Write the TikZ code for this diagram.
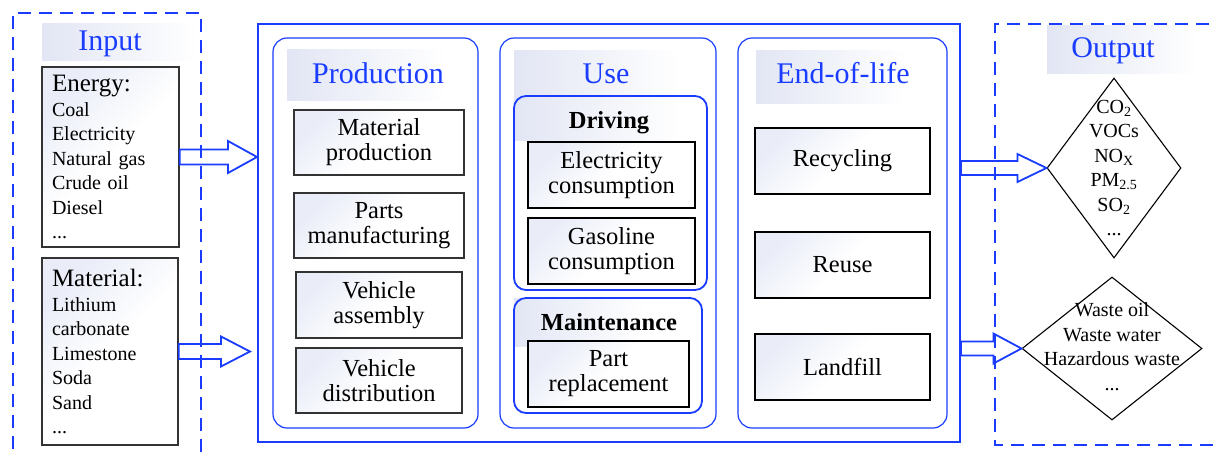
\documentclass[tikz,border=0pt]{standalone}
\usepackage{fontspec}
\setmainfont{Liberation Serif}
\newfontfamily\tnr{Liberation Serif}
\usetikzlibrary{shapes.geometric,calc}
\definecolor{mblue}{RGB}{25,60,255}
\definecolor{gfill}{RGB}{226,230,244}
\definecolor{bfill}{RGB}{234,237,248}
\newcommand\blkarrow[5]{%
  \draw[arr] let \p1=(#1), \p2=(#2) in
    (\x1,\y1+#3) -- (\x2-#5,\y1+#3) -- (\x2-#5,\y1+#4) -- (\x2,\y1)
    -- (\x2-#5,\y1-#4) -- (\x2-#5,\y1-#3) -- (\x1,\y1-#3) -- cycle;}
\tikzset{
  grad/.style={top color=bfill, bottom color=white, shading angle=45, middle color=white},
  titlebg/.style={left color=gfill, right color=white, draw=none, inner sep=0pt, anchor=north west},
  ttl/.style={font=\tnr\fontsize{30}{31}\selectfont, text=mblue, anchor=base, inner sep=0pt},
  subttl/.style={font=\tnr\fontsize{24.5}{25}\selectfont\bfseries, anchor=base, inner sep=0pt},
  boxtxt/.style={font=\tnr\fontsize{24.5}{25}\selectfont, align=center},
  pbox/.style={boxtxt, draw=black!80, line width=1.2pt, grad, inner sep=0pt},
  tbox/.style={boxtxt, draw=black, line width=2.6pt, grad, inner sep=0pt},
  inbox/.style={draw=black!80, line width=1.5pt, grad, align=left, inner xsep=10pt,
     font=\tnr\fontsize{20}{24.5}\selectfont},
  panel/.style={draw=mblue, line width=1.2pt, rounded corners=14pt, inner sep=0pt},
  subpanel/.style={draw=mblue, line width=1.8pt, rounded corners=12pt, inner sep=0pt},
  dashbox/.style={draw=mblue, line width=2pt, dash pattern=on 13pt off 8pt},
  arr/.style={draw=mblue, line width=1.8pt, line join=miter},
  dia/.style={diamond, draw=black, line width=1.1pt, inner sep=0pt, fill=white},
  diatxt/.style={font=\tnr\fontsize{20}{24.5}\selectfont, align=center, inner sep=0pt},
}
\begin{document}
\begin{tikzpicture}[x=1pt,y=-1pt,font=\tnr]
\useasboundingbox (0,0) rectangle (1213,453);
\clip (0,0) rectangle (1213,453);
\fill[white] (0,0) rectangle (1213,453);

% dashed input / output frames
\draw[dashbox] (13,470) -- (13,13) -- (201,13) -- (201,470);
\draw[dashbox] (1230,24) -- (995,24) -- (995,445) -- (1230,445);

% title backgrounds
\node[titlebg, minimum width=155, minimum height=37] (inbg) at (42,23) {};
\node[titlebg, minimum width=158, minimum height=51] (prodbg) at (287,49) {};
\node[titlebg, minimum width=166, minimum height=90] (usebg) at (514,50) {};
\node[titlebg, minimum width=130, minimum height=48] (mntbg) at (514,298) {};
\node[titlebg, minimum width=150, minimum height=53] (eolbg) at (756,50) {};
\node[titlebg, minimum width=150, minimum height=48] (outbg) at (1047,25) {};

% main frame and panels
\node[draw=mblue, line width=2pt, minimum width=702, minimum height=418, inner sep=0pt] (main) at (609,233) {};
\node[panel, minimum width=205, minimum height=390] (prod) at (375.5,233) {};
\node[panel, minimum width=216, minimum height=390] (use) at (608,233) {};
\node[panel, minimum width=209, minimum height=390] (eol) at (842.5,233) {};
\node[subpanel, minimum width=193, minimum height=194] (drv) at (610.5,193) {};
\node[subpanel, minimum width=188, minimum height=115] (mnt) at (608,355.5) {};

% titles
\node[ttl] (intitle) at (110,50) {Input};
\node[ttl] (prodtitle) at (378,83) {Production};
\node[ttl] (usetitle) at (606,83) {Use};
\node[ttl] (eoltitle) at (843,83) {End-of-life};
\node[ttl] (outtitle) at (1113,57) {Output};
\node[subttl] (drvtitle) at (609,128) {Driving};
\node[subttl] (mnttitle) at (609,330) {Maintenance};

% input boxes
\node[inbox, text width=117, minimum width=137, minimum height=180] (energy) at (110.5,157)
  {{\fontsize{25}{26}\selectfont Energy:}\\Coal\\Electricity\\Natural gas\\Crude oil\\Diesel\\...};
\node[inbox, text width=116, minimum width=136, minimum height=187] (material) at (110,351.5)
  {{\fontsize{25}{26}\selectfont Material:}\\Lithium\\carbonate\\Limestone\\Soda\\Sand\\...};

% production
\node[pbox, minimum width=170, minimum height=65] (mp) at (379,142.5) {Material\\production};
\node[pbox, minimum width=170, minimum height=65] (pm) at (379,225.5) {Parts\\manufacturing};
\node[pbox, minimum width=166, minimum height=66] (va) at (379,305) {Vehicle\\assembly};
\node[pbox, minimum width=166, minimum height=65] (vd) at (379,380.5) {Vehicle\\distribution};

% use
\node[tbox, minimum width=167, minimum height=66] (ec) at (611.5,175) {Electricity\\consumption};
\node[tbox, minimum width=167, minimum height=66] (gc) at (611.5,251) {Gasoline\\consumption};
\node[tbox, minimum width=161, minimum height=66] (pr) at (608.5,374) {Part\\replacement};

% end of life
\node[tbox, minimum width=175, minimum height=66] (rec) at (842.5,161) {Recycling};
\node[tbox, minimum width=175, minimum height=66] (reu) at (842.5,265) {Reuse};
\node[tbox, minimum width=175, minimum height=66] (lan) at (842.5,367) {Landfill};

% output diamonds
\node[dia, minimum width=134, minimum height=180] (dia1) at (1114,168) {};
\node[dia, minimum width=180, minimum height=143] (dia2) at (1112,348.5) {};
\node[diatxt] (d1t) at (dia1.center) {CO\textsubscript{2}\\VOCs\\NO\textsubscript{X}\\PM\textsubscript{2.5}\\SO\textsubscript{2}\\...};
\node[diatxt] (d2t) at ([yshift=2]dia2.center) {Waste oil\\Waste water\\Hazardous waste\\...};

% block arrows
\coordinate (a2e) at (250,351.5);
\blkarrow{energy.east}{energy.east -| main.west}{7.5}{16}{29}
\blkarrow{material.east}{a2e}{7.5}{15}{29}
\blkarrow{main.east |- dia1.west}{dia1.west}{7}{14}{29}
\blkarrow{main.east |- dia2.west}{dia2.west}{7}{15}{28}
\end{tikzpicture}
\end{document}
